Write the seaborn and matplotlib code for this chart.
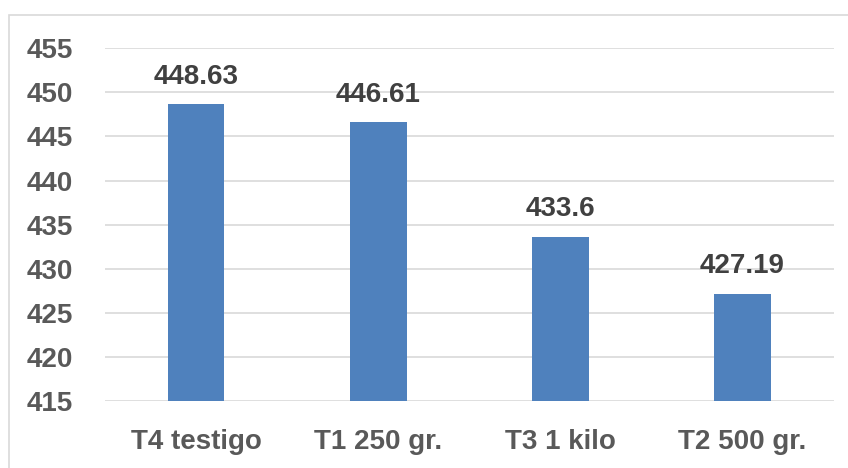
import matplotlib
matplotlib.use('Agg')
import matplotlib.pyplot as plt
import seaborn as sns
import pandas as pd
from matplotlib.patches import Rectangle

# Chart values
categories = ['T4 testigo', 'T1 250 gr.', 'T3 1 kilo', 'T2 500 gr.']
values = [448.63, 446.61, 433.6, 427.19]
value_labels = ['448.63', '446.61', '433.6', '427.19']
y_ticks = [415, 420, 425, 430, 435, 440, 445, 450, 455]

sns.set_theme(style='white')
plt.rcParams['font.family'] = ['Liberation Sans', 'DejaVu Sans']

df = pd.DataFrame({'tratamiento': categories, 'valor': values})

fig = plt.figure(figsize=(8.48, 4.68), dpi=100)
ax = fig.add_axes([0.124, 0.143, 0.859, 0.754])

# light chart border
fig.patches.append(Rectangle((0.0106, -0.05), 1.2, 1.018, transform=fig.transFigure,
                             fill=False, edgecolor='#d9d9d9', linewidth=1.2))

ax.set_ylim(415, 455)
ax.set_yticks(y_ticks)
ax.yaxis.grid(True, color='#d9d9d9', linewidth=1.2)
ax.set_axisbelow(True)

sns.barplot(data=df, x='tratamiento', y='valor', ax=ax, color='#4f81bd',
            saturation=1, width=0.31)
for p in ax.patches:
    p.set_edgecolor('none')

for i, (v, lab) in enumerate(zip(values, value_labels)):
    ax.annotate(lab, (i, v), xytext=(0, 10.5), textcoords='offset points',
                ha='center', va='bottom', fontsize=20, fontweight='bold', color='#404040')

for s in ax.spines.values():
    s.set_visible(False)
ax.set_xlabel('')
ax.set_ylabel('')
ax.tick_params(axis='both', length=0, labelsize=20, labelcolor='#595959')
ax.tick_params(axis='x', pad=20)
ax.tick_params(axis='y', pad=23)
for t in ax.get_xticklabels() + ax.get_yticklabels():
    t.set_fontweight('bold')

fig.savefig('out.png', dpi=100)
